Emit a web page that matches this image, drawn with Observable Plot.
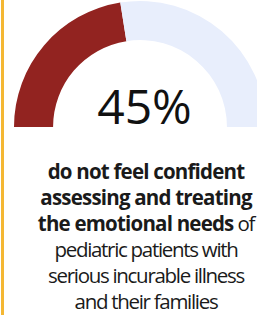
<!DOCTYPE html>
<html>
<head>
<meta charset="utf-8">
<script src="https://cdn.jsdelivr.net/npm/d3@7"></script>
<script src="https://cdn.jsdelivr.net/npm/@observablehq/plot@0.6"></script>
<style>
  html, body { margin: 0; padding: 0; background: #fff; }
  #wrap { position: relative; width: 257px; height: 315px; overflow: hidden; }
  #bar { position: absolute; left: 1px; top: 0; width: 3px; height: 315px; background: #f4b733; }
  #chart { position: absolute; left: 0; top: 0; }
  #caption {
    position: absolute; left: 35px; top: 158px; width: 222px;
    font-family: "Open Sans", sans-serif; font-size: 20.5px; line-height: 26px;
    letter-spacing: -1.3px; text-align: center; color: #1a1a1a;
  }
  #caption b { font-weight: 700; letter-spacing: -0.8px; }
</style>
</head>
<body>
<div id="wrap">
  <div id="bar"></div>
  <div id="chart"></div>
  <div id="caption"></div>
</div>
<script>
const categories = ["do not feel confident", "other"];
const values = [45, 55];
const colors = ["#922320", "#e8eefc"];
const headline = "45%";
const captionBold = ["do not feel confident", "assessing and treating", "the emotional needs"];
const captionRest = [" of", "pediatric patients with", "serious incurable illness", "and their families"];

const ends = d3.cumsum(values);
const segments = categories.map((c, i) => ({
  category: c, value: values[i], start: ends[i] - values[i], end: ends[i], color: colors[i]
}));
const total = d3.sum(values);

function gauge(index, scales, vals, dims) {
  const sx = scales.x;
  const cx = (dims.marginLeft + dims.width - dims.marginRight) / 2;
  const cy = dims.height - dims.marginBottom;
  const R = dims.height - dims.marginTop - dims.marginBottom;
  const r = R * 0.69;
  const arc = d3.arc().innerRadius(r).outerRadius(R);
  const g = d3.create("svg:g").attr("transform", `translate(${cx},${cy})`);
  g.selectAll("path").data(segments).join("path")
    .attr("fill", d => d.color)
    .attr("d", d => arc({startAngle: sx(d.start), endAngle: sx(d.end)}));
  return g.node();
}

const plot = Plot.plot({
  width: 257,
  height: 130,
  marginLeft: 23,
  marginRight: 0,
  marginTop: 1,
  marginBottom: 3,
  x: {domain: [0, total], range: [-Math.PI / 2, Math.PI / 2], axis: null},
  y: {axis: null},
  style: {background: "transparent", overflow: "visible"},
  marks: [
    Plot.ruleX(segments, {x: "end", strokeOpacity: 0}),
    gauge,
    Plot.text([headline], {
      text: d => d, frameAnchor: "bottom", lineAnchor: "bottom",
      dx: 4, dy: -4, fontSize: 48, fontFamily: "Open Sans, sans-serif",
      fill: "#111"
    })
  ]
});
document.getElementById("chart").appendChild(plot);

const cap = document.getElementById("caption");
const html = captionBold.map((t, i) => i < captionBold.length - 1 ? `<b>${t}</b><br>` : `<b>${t}</b>`).join("")
  + captionRest[0] + "<br>" + captionRest.slice(1).join("<br>");
cap.innerHTML = html;
</script>
</body>
</html>
